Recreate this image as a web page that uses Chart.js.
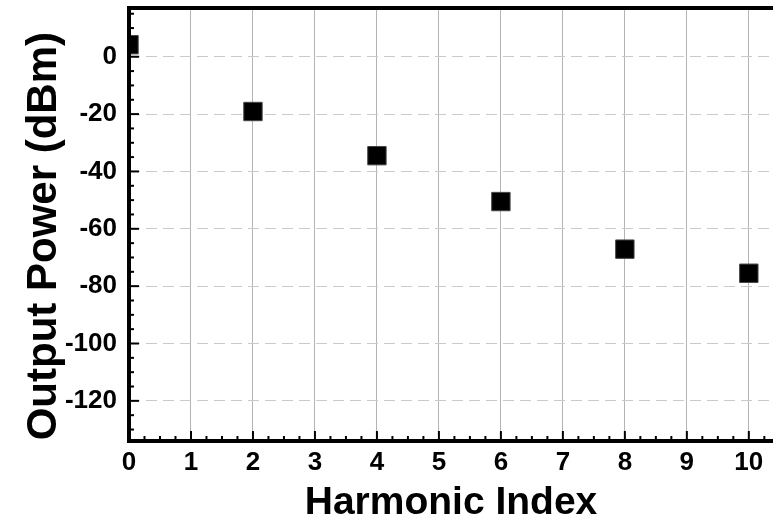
<!DOCTYPE html>
<html lang="en">
<head>
    <meta charset="UTF-8">
    <title>Harmonic Output Power</title>
    <script src="https://cdn.jsdelivr.net/npm/chart.js"></script>
    <style>
        body { margin: 0; background: #fff; }
        #wrap { width: 773px; height: 521px; }
    </style>
</head>
<body>
    <div id="wrap"><canvas id="harmChart"></canvas></div>

    <script>
        // harmonic index and measured output power (dBm)
        const harmonics = [0, 2, 4, 6, 8, 10];
        const powerDbm = [4.2, -19.1, -34.5, -50.5, -67.1, -75.5];
        const xTicks = [0, 1, 2, 3, 4, 5, 6, 7, 8, 9, 10];
        const yTicks = [0, -20, -40, -60, -80, -100, -120];

        const labelFont = { family: "Liberation Sans", weight: "bold", size: 26 };

        // thick frame + inward ticks like the original plot
        const frame = {
            id: "frame",
            afterDraw(chart) {
                const { ctx, chartArea: a, scales: { x, y } } = chart;
                ctx.save();
                ctx.strokeStyle = "#000";
                ctx.lineWidth = 2;
                for (let i = 0; i * 0.25 <= x.max; i++) {
                    const px = x.getPixelForValue(i * 0.25);
                    const len = i % 4 === 0 ? 10 : 5;
                    ctx.beginPath();
                    ctx.moveTo(px, a.bottom);
                    ctx.lineTo(px, a.bottom - len);
                    ctx.stroke();
                }
                for (let v = -130; v <= y.max; v += 5) {
                    const py = y.getPixelForValue(v);
                    const len = v % 20 === 0 ? 10 : 5;
                    ctx.beginPath();
                    ctx.moveTo(a.left, py);
                    ctx.lineTo(a.left + len, py);
                    ctx.stroke();
                }
                ctx.lineWidth = 4;
                ctx.lineCap = "square";
                ctx.beginPath();
                ctx.moveTo(a.right + 4, a.top);
                ctx.lineTo(a.left, a.top);
                ctx.lineTo(a.left, a.bottom);
                ctx.lineTo(a.right + 4, a.bottom);
                ctx.stroke();
                ctx.restore();
            }
        };

        new Chart(document.getElementById("harmChart"), {
            type: "scatter",
            data: {
                datasets: [{
                    data: harmonics.map((h, i) => ({ x: h, y: powerDbm[i] })),
                    pointStyle: "rect",
                    pointRadius: 13,
                    pointHoverRadius: 13,
                    backgroundColor: "#000",
                    borderColor: "#444",
                    borderWidth: 1,
                    clip: 0
                }]
            },
            options: {
                responsive: true,
                maintainAspectRatio: false,
                animation: false,
                layout: { autoPadding: false, padding: { top: 8, right: 0, left: 0, bottom: 0 } },
                plugins: { legend: { display: false }, tooltip: { enabled: false } },
                scales: {
                    x: {
                        type: "linear",
                        min: 0,
                        max: 10.39,
                        afterBuildTicks: s => { s.ticks = xTicks.map(v => ({ value: v })); },
                        afterFit: s => { s.height = 80; s.paddingLeft = 0; s.paddingRight = 0; },
                        ticks: { color: "#000", font: labelFont, padding: 6 },
                        grid: { color: "#b4b4b4", lineWidth: 1, drawTicks: false },
                        border: { display: false },
                        title: {
                            display: true,
                            text: "Harmonic Index",
                            color: "#000",
                            font: { family: "Liberation Sans", weight: "bold", size: 39, lineHeight: 0.9 },
                            padding: { top: 0, bottom: 0 }
                        }
                    },
                    y: {
                        min: -134,
                        max: 17,
                        afterBuildTicks: s => { s.ticks = yTicks.map(v => ({ value: v })); },
                        afterFit: s => { s.width = 129; s.paddingTop = 0; s.paddingBottom = 0; },
                        ticks: { color: "#000", font: labelFont, padding: 12 },
                        grid: { color: "#cacaca", lineWidth: 1, drawTicks: false },
                        border: { display: false, dash: [11, 6] },
                        title: {
                            display: true,
                            text: "Output Power (dBm)  ",
                            color: "#000",
                            font: { family: "Liberation Sans", weight: "bold", size: 42, lineHeight: 1 },
                            padding: { top: 23, bottom: 0 }
                        }
                    }
                }
            },
            plugins: [frame]
        });
    </script>
</body>
</html>
